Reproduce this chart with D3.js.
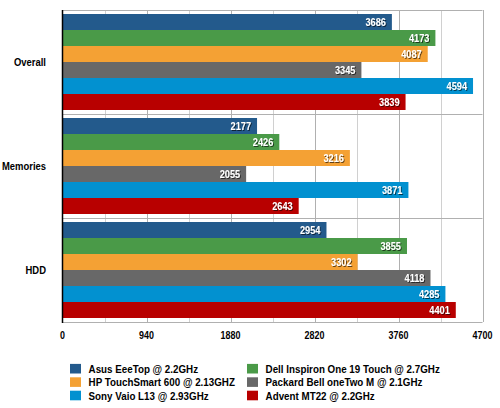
<!DOCTYPE html>
<html><head><meta charset="utf-8">
<script src="https://cdn.jsdelivr.net/npm/d3@7"></script>
<style>body{margin:0;background:#fff}svg{display:block}</style>
</head><body>
<svg id="c" width="500" height="408"></svg>
<script>
const categories = ["Overall", "Memories", "HDD"];
const seriesNames = ["Asus EeeTop @ 2.2GHz", "Dell Inspiron One 19 Touch @ 2.7GHz", "HP TouchSmart 600 @ 2.13GHZ", "Packard Bell oneTwo M @ 2.1GHz", "Sony Vaio L13 @ 2.93GHz", "Advent MT22 @ 2.2GHz"];
const seriesColors = ["#235a8c", "#4a9a48", "#f4a134", "#686868", "#0291d0", "#b80000"];
const asus = [3686, 2177, 2954];
const dell = [4173, 2426, 3855];
const hp = [4087, 3216, 3302];
const packard = [3345, 2055, 4118];
const sony = [4594, 3871, 4285];
const advent = [3839, 2643, 4401];
const tickValues = [0, 940, 1880, 2820, 3760, 4700];
const minorTicks = [470, 1410, 2350, 3290, 4230];
const seriesValues = [asus, dell, hp, packard, sony, advent];

const svg = d3.select("#c");
const defs = svg.append("defs");
const f = defs.append("filter").attr("id","sh").attr("x","-20%").attr("y","-30%").attr("width","140%").attr("height","160%");
f.append("feDropShadow").attr("dx",1).attr("dy",1).attr("stdDeviation",0.6).attr("flood-color","#000").attr("flood-opacity",0.6);

const L = 62.5, R = 482.5, T = 10, B = 322;
const x = d3.scaleLinear().domain([0, 4700]).range([L, R]);
const y0 = d3.scaleBand().domain(categories).range([T, B]).paddingInner(0).paddingOuter(0);
const y1 = d3.scaleBand().domain(d3.range(6)).range([4, y0.bandwidth() - 4]);

const font = "'Liberation Sans', Arial, sans-serif";
function condense(sel, k) {
  sel.each(function() {
    const w = this.getComputedTextLength();
    d3.select(this).attr("textLength", w * k).attr("lengthAdjust", "spacingAndGlyphs");
  });
}

// grid
const g = svg.append("g");
g.selectAll("line.minor").data(minorTicks).join("line")
  .attr("x1", d => Math.round(x(d)) + 0.5).attr("x2", d => Math.round(x(d)) + 0.5)
  .attr("y1", T).attr("y2", B).attr("stroke", "#d0d0d0").attr("stroke-width", 1);
g.selectAll("line.major").data(tickValues.slice(1)).join("line")
  .attr("x1", d => Math.round(x(d)) + 0.5).attr("x2", d => Math.round(x(d)) + 0.5)
  .attr("y1", T).attr("y2", B).attr("stroke", "#b0b0b0").attr("stroke-width", 1);
const hLines = categories.map(c => y0(c)).concat([B]);
g.selectAll("line.h").data(hLines).join("line")
  .attr("x1", L).attr("x2", R).attr("y1", d => Math.round(d) + 0.5).attr("y2", d => Math.round(d) + 0.5)
  .attr("stroke", "#b0b0b0").attr("stroke-width", 1);

// bars
const groups = svg.append("g").selectAll("g").data(categories).join("g")
  .attr("transform", c => `translate(0,${y0(c)})`);
groups.each(function(c, ci) {
  const gg = d3.select(this);
  const data = seriesValues.map((arr, si) => ({si, v: arr[ci]}));
  gg.selectAll("rect").data(data).join("rect")
    .attr("x", x(0)).attr("y", d => y1(d.si)).attr("width", d => x(d.v) - x(0))
    .attr("height", y1.bandwidth()).attr("fill", d => seriesColors[d.si]);
  gg.selectAll("text").data(data).join("text")
    .attr("x", d => x(d.v) - 6).attr("y", d => y1(d.si) + y1.bandwidth() / 2 + 4.2)
    .attr("text-anchor", "end").attr("fill", "#fff").attr("font-family", font)
    .attr("font-weight", "bold").attr("font-size", 11.5).attr("filter", "url(#sh)")
    .text(d => d.v).call(condense, 0.8);
});

// left axis line
svg.append("line").attr("x1", L).attr("x2", L).attr("y1", T).attr("y2", B + 1)
  .attr("stroke", "#000").attr("stroke-width", 1.5);

// category labels
svg.append("g").selectAll("text").data(categories).join("text")
  .attr("x", 46).attr("y", c => y0(c) + y0.bandwidth() / 2 + 4)
  .attr("text-anchor", "end").attr("font-family", font).attr("font-weight", "bold")
  .attr("font-size", 11.5).attr("fill", "#000").text(c => c).call(condense, 0.82);

// x axis labels
svg.append("g").selectAll("text").data(tickValues).join("text")
  .attr("x", d => x(d)).attr("y", 339)
  .attr("text-anchor", "middle").attr("font-family", font).attr("font-weight", "bold")
  .attr("font-size", 10.5).attr("fill", "#000").text(d => d).call(condense, 0.85);

// legend
const legX = [70, 247], legY = [368.7, 382.1, 395.5];
const leg = svg.append("g").selectAll("g").data(seriesNames).join("g")
  .attr("transform", (d, i) => `translate(${legX[i % 2]},${legY[Math.floor(i / 2)]})`);
leg.append("rect").attr("x", 0).attr("y", -4.8).attr("width", 11).attr("height", 9.6)
  .attr("fill", (d, i) => seriesColors[i]);
leg.append("text").attr("x", 18.6).attr("y", 4).attr("font-family", font)
  .attr("font-weight", "bold").attr("font-size", 11).attr("fill", "#000")
  .text(d => d).call(condense, 0.89);
</script>
</body></html>
